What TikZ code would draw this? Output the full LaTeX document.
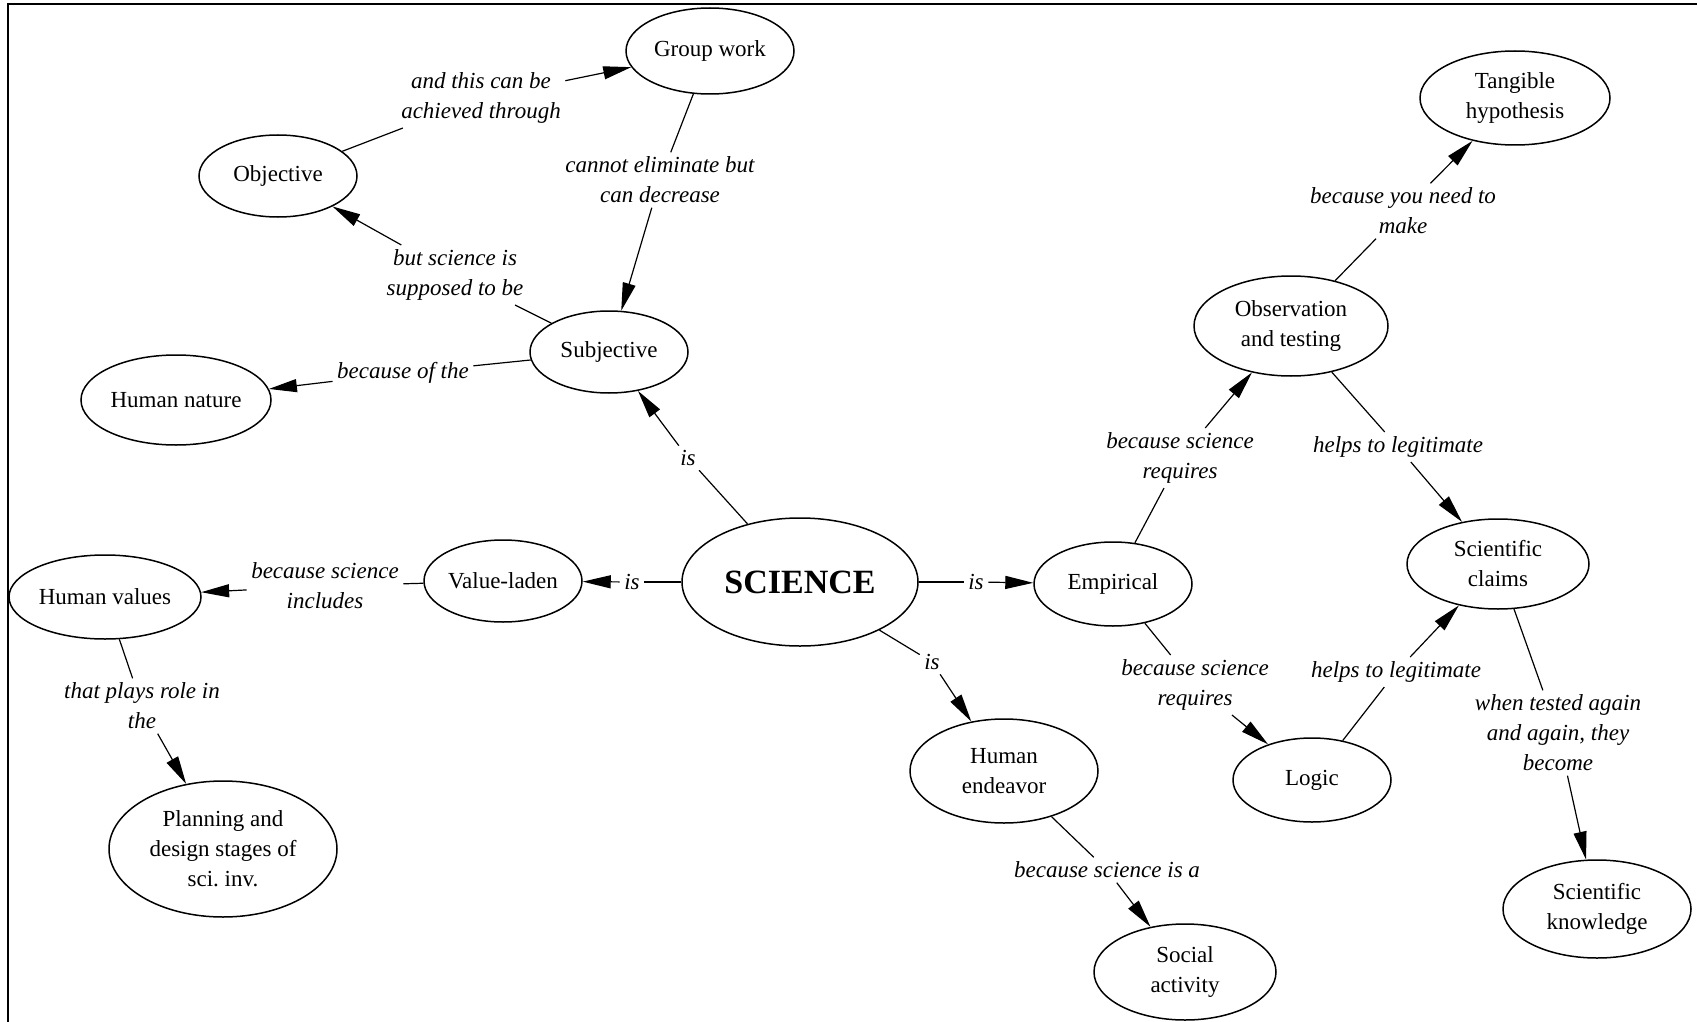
\documentclass[tikz,border=0pt]{standalone}
\usepackage{fontspec}
\setmainfont{Liberation Serif}
\usepackage{tikz}
\usetikzlibrary{arrows.meta,shapes.geometric,positioning}
\frenchspacing

\begin{document}
\begin{tikzpicture}[x=0.5pt,y=-0.5pt,
		concept/.style={ellipse,draw,line width=0.75pt,inner sep=0pt,align=center,
			font=\fontsize{11.5}{15}\selectfont},
		lbl/.style={inner sep=2pt,align=center,font=\fontsize{11.5}{15}\selectfont\itshape},
		arr/.style={-{Triangle[length=14pt,width=6.5pt]}},
		every path/.style={line width=0.6pt}]
				%\draw[color=gray,step=10, help lines,opacity=0.3] (0,0) grid (1697,1022); %help grids
				\useasboundingbox (0,0) rectangle (1697,1022);
				\draw[line width=1.4pt] (8,1022) -- (8,4) -- (1697,4);

				% concepts
				\node[concept,minimum width=118pt,minimum height=64pt,font=\fontsize{17}{20}\selectfont\bfseries] (sci) at (800,582) {SCIENCE};
				\node[concept,minimum width=84pt,minimum height=43pt] (grp) at (710,51) {Group work};
				\node[concept,minimum width=79pt,minimum height=41pt] (obj) at (278,176) {Objective};
				\node[concept,minimum width=79pt,minimum height=41pt] (subj) at (609,352) {Subjective};
				\node[concept,minimum width=95pt,minimum height=45pt] (hnat) at (176,400) {Human nature};
				\node[concept,minimum width=96pt,minimum height=42pt] (hval) at (105,597) {Human values};
				\node[concept,minimum width=79pt,minimum height=41pt] (vlad) at (503,581) {Value-laden};
				\node[concept,minimum width=114pt,minimum height=68pt] (plan) at (223,849) {Planning and\\design stages of\\sci. inv.};
				\node[concept,minimum width=79pt,minimum height=42pt] (emp) at (1113,584) {Empirical};
				\node[concept,minimum width=94pt,minimum height=52pt] (hend) at (1004,771) {Human\\endeavor};
				\node[concept,minimum width=91pt,minimum height=48pt] (soc) at (1185,972) {Social\\activity};
				\node[concept,minimum width=79pt,minimum height=42pt] (logic) at (1312,780) {Logic};
				\node[concept,minimum width=97pt,minimum height=50pt] (obs) at (1291,326) {Observation\\and testing};
				\node[concept,minimum width=95pt,minimum height=47pt] (tang) at (1515,98) {Tangible\\hypothesis};
				\node[concept,minimum width=91pt,minimum height=45pt] (claims) at (1498,564) {Scientific\\claims};
				\node[concept,minimum width=94pt,minimum height=49pt] (know) at (1597,909) {Scientific\\knowledge};

				% linking phrases
				\node[lbl] (l-ach) at (481,98) {and this can be\\achieved through};
				\node[lbl] (l-dec) at (660,180) {cannot eliminate but\\can decrease};
				\node[lbl] (l-supp) at (455,275) {but science is\\supposed to be};
				\node[lbl] (l-becof) at (403,373) {because of the};
				\node[lbl] (l-is-subj) at (688,458) {is};
				\node[lbl] (l-incl) at (325,586) {because science\\includes};
				\node[lbl] (l-is-val) at (632,582) {is};
				\node[lbl] (l-is-emp) at (976,582) {is};
				\node[lbl] (l-is-hend) at (932,662) {is};
				\node[lbl] (l-role) at (142,706) {that plays role in\\the};
				\node[lbl] (l-soc) at (1107,870) {because science is a};
				\node[lbl] (l-req-obs) at (1180,458) {because science\\requires};
				\node[lbl] (l-leg-obs) at (1398,447) {helps to legitimate};
				\node[lbl] (l-make) at (1403,211) {because you need to\\make};
				\node[lbl] (l-req-log) at (1195,685) {because science\\requires};
				\node[lbl] (l-leg-log) at (1396,672) {helps to legitimate};
				\node[lbl] (l-tested) at (1558,733) {when tested again\\and again, they\\become};

				% links
				\draw (obj) -- (l-ach); \draw[arr] (l-ach) -- (grp);
				\draw (grp) -- (l-dec); \draw[arr] (l-dec) -- (subj);
				\draw (subj) -- (l-supp); \draw[arr] (l-supp) -- (obj);
				\draw (subj) -- (l-becof); \draw[arr] (l-becof) -- (hnat);
				\draw (sci) -- (l-is-subj); \draw[arr] (l-is-subj) -- (subj);
				\draw (sci) -- (l-is-val); \draw[arr] (l-is-val) -- (vlad);
				\draw (vlad) -- (l-incl); \draw[arr] (l-incl) -- (hval);
				\draw (hval) -- (l-role); \draw[arr] (l-role) -- (plan);
				\draw (sci) -- (l-is-emp); \draw[arr] (l-is-emp) -- (emp);
				\draw (sci) -- (l-is-hend); \draw[arr] (l-is-hend) -- (hend);
				\draw (hend) -- (l-soc); \draw[arr] (l-soc) -- (soc);
				\draw (emp) -- (l-req-obs); \draw[arr] (l-req-obs) -- (obs);
				\draw (obs) -- (l-make); \draw[arr] (l-make) -- (tang);
				\draw (obs) -- (l-leg-obs); \draw[arr] (l-leg-obs) -- (claims);
				\draw (emp) -- (l-req-log); \draw[arr] (l-req-log) -- (logic);
				\draw (logic) -- (l-leg-log); \draw[arr] (l-leg-log) -- (claims);
				\draw (claims) -- (l-tested); \draw[arr] (l-tested) -- (know);
\end{tikzpicture}
\end{document}
